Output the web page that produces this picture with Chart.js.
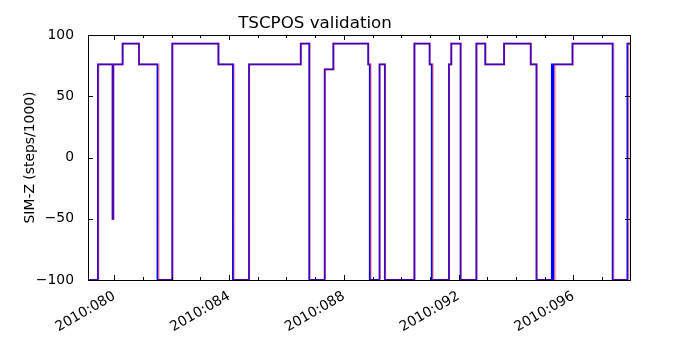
<!DOCTYPE html>
<html lang="en">
<head>
<meta charset="UTF-8">
<title>TSCPOS validation</title>
<style>
  html, body { margin: 0; padding: 0; background: #fff; }
</style>
</head>
<body>
<canvas id="posChart" width="700" height="350"></canvas>

<script src="https://cdn.jsdelivr.net/npm/chart.js"></script>
<script>
// day of year 2010 where the level changes, and the level it changes to
const blueTimes = [79.08, 79.43, 79.94, 79.965, 80.29, 80.86, 81.505, 82.02, 83.63, 84.135, 84.695,
                   86.50, 86.795, 87.335, 87.635, 88.85, 88.905, 89.245, 89.43, 90.46, 90.99, 91.065,
                   91.665, 91.745, 92.07, 92.62, 92.93, 93.585, 94.515, 94.715, 95.25, 95.28, 95.31,
                   95.97, 97.37, 97.885, 97.975];
const blueValues = [-100, 76, -50, 76, 93, 76, -100, 93, 76, -100, 76,
                    93, -100, 72, 93, 76, -100, 76, -100, 93, 76, -100,
                    76, 93, -100, 93, 76, 93, 76, -100, 76, -100, 76,
                    93, -100, 93, 93];

const redTimes = [79.08, 79.45, 79.94, 79.965, 80.29, 80.86, 81.55, 82.03, 83.63, 84.18, 84.70,
                  86.50, 86.82, 87.34, 87.64, 88.86, 88.95, 89.25, 89.44, 90.47, 91.00, 91.11,
                  91.67, 91.75, 92.08, 92.63, 92.94, 93.59, 94.52, 94.73, 95.37,
                  95.98, 97.40, 97.92, 97.975];
const redValues = [-100, 76, -50, 76, 93, 76, -100, 93, 76, -100, 76,
                   93, -100, 72, 93, 76, -100, 76, -100, 93, 76, -100,
                   76, 93, -100, 93, 76, 93, 76, -100, 76,
                   93, -100, 93, 93];

const yTicks = [-100, -50, 0, 50, 100];
const majorDays = [80, 84, 88, 92, 96];
const minorDays = [80, 81, 82, 83, 84, 85, 86, 87, 88, 89, 90, 91, 92, 93, 94, 95, 96, 97];

const toPoints = (t, v) => t.map((x, i) => ({x: x, y: v[i]}));

Chart.defaults.font.family = "'DejaVu Sans', sans-serif";
Chart.defaults.color = '#000';

// matplotlib style box with inward ticks
const frameTicks = {
  id: 'frameTicks',
  afterDraw(chart) {
    const ctx = chart.ctx;
    const a = chart.chartArea;
    const xs = chart.scales.x, ys = chart.scales.y;
    ctx.save();
    ctx.strokeStyle = '#000';
    ctx.lineWidth = 1;
    ctx.strokeRect(a.left + 0.5, a.top + 0.5, a.right - a.left, a.bottom - a.top);
    ctx.beginPath();
    minorDays.forEach(d => {
      const px = Math.round(xs.getPixelForValue(d)) + 0.5;
      const len = majorDays.includes(d) ? 5 : 3;
      ctx.moveTo(px, a.bottom); ctx.lineTo(px, a.bottom - len);
      ctx.moveTo(px, a.top); ctx.lineTo(px, a.top + len);
    });
    yTicks.forEach(v => {
      const py = Math.round(ys.getPixelForValue(v)) + 0.5;
      ctx.moveTo(a.left, py); ctx.lineTo(a.left + 5, py);
      ctx.moveTo(a.right, py); ctx.lineTo(a.right - 5, py);
    });
    ctx.stroke();
    ctx.restore();
  }
};

new Chart(document.getElementById('posChart'), {
  type: 'line',
  data: {
    datasets: [
      {
        label: 'red',
        data: toPoints(redTimes, redValues),
        borderColor: 'rgba(255, 0, 0, 0.3)',
        borderWidth: 2,
        stepped: 'before',
        pointRadius: 0,
        order: 0
      },
      {
        label: 'blue',
        data: toPoints(blueTimes, blueValues),
        borderColor: '#0000ff',
        borderWidth: 1.8,
        stepped: 'before',
        pointRadius: 0,
        order: 1
      }
    ]
  },
  options: {
    responsive: false,
    animation: false,
    devicePixelRatio: 1,
    layout: { padding: { left: 0, right: 70, top: 0, bottom: 0 } },
    plugins: {
      legend: { display: false },
      tooltip: { enabled: false },
      title: {
        display: true,
        text: 'TSCPOS validation',
        font: { size: 16.7, weight: 'normal' },
        padding: { top: 14, bottom: 1 }
      }
    },
    scales: {
      x: {
        type: 'linear',
        min: 79.083,
        max: 97.975,
        grid: { display: false },
        border: { display: false },
        afterBuildTicks: s => { s.ticks = minorDays.map(d => ({value: d})); },
        afterFit: s => { s.height = 70; },
        ticks: {
          autoSkip: false,
          minRotation: 30,
          maxRotation: 30,
          padding: 0,
          font: { size: 13.9 },
          callback: v => majorDays.includes(v) ? '2010:0' + v : ''
        }
      },
      y: {
        min: -100,
        max: 100,
        grid: { display: false },
        border: { display: false },
        afterBuildTicks: s => { s.ticks = yTicks.map(v => ({value: v})); },
        afterFit: s => { s.width = 88; },
        ticks: {
          padding: 6,
          font: { size: 13.9 },
          callback: v => v < 0 ? '\u2212' + Math.abs(v) : String(v)
        },
        title: {
          display: true,
          text: 'SIM-Z (steps/1000)',
          font: { size: 13.9 },
          padding: { top: 22, bottom: 0 }
        }
      }
    }
  },
  plugins: [frameTicks]
});
</script>
</body>
</html>
